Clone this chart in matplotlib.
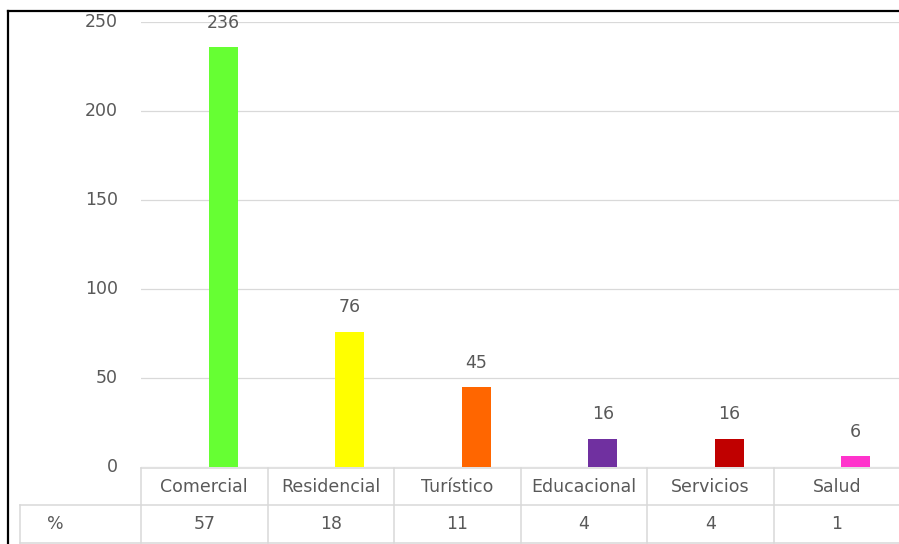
import matplotlib.pyplot as plt
from matplotlib.lines import Line2D
from matplotlib.transforms import blended_transform_factory

categorias = ["Comercial", "Residencial", "Turístico", "Educacional", "Servicios", "Salud"]
cantidad = [236, 76, 45, 16, 16, 6]
porcentaje = [57, 18, 11, 4, 4, 1]
colores = ["#66FF33", "#FFFF00", "#FF6600", "#7030A0", "#C00000", "#FF33CC"]
yticks = [0, 50, 100, 150, 200, 250]

W, H = 899, 544
plt.rcParams['font.family'] = ['DejaVu Sans']
gris = "#595959"
linea = "#D9D9D9"
fs = 12.5

fig = plt.figure(figsize=(W / 100, H / 100), dpi=100)

def fx(px):
    return px / W

def fy(py):
    return 1 - py / H

# plot area in pixel terms
x0, x1 = 141, 900
y_top, y_bot = 22, 467
ax = fig.add_axes([fx(x0), fy(y_bot), fx(x1) - fx(x0), (y_bot - y_top) / H])

pos = [i + 0.15 for i in range(len(categorias))]
ax.bar(pos, cantidad, width=0.23, color=colores, zorder=3)
for p, v in zip(pos, cantidad):
    ax.annotate(str(v), (p, v), xytext=(0, 17.5), textcoords="offset points",
                ha="center", va="center", fontsize=fs, color=gris)

ax.set_xlim(-0.5, len(categorias) - 0.5)
ax.set_ylim(0, 250)
ax.set_yticks(yticks)
ax.grid(axis="y", color=linea, linewidth=0.9, zorder=0)
ax.set_xticks([])
for s in ax.spines.values():
    s.set_visible(False)
ax.tick_params(axis="y", length=0, pad=16.5, labelsize=fs, labelcolor=gris)
for lbl in ax.get_yticklabels():
    lbl.set_verticalalignment("center")

# data table under the bars
tr = blended_transform_factory(ax.transData, fig.transFigure)
r0, r1, r2 = fy(468), fy(505), fy(543)
n = len(categorias)
for k in range(n + 1):
    fig.add_artist(Line2D([k - 0.5, k - 0.5], [r0, r2], transform=tr, color=linea, lw=1.1))
fig.add_artist(Line2D([-0.5, n - 0.5], [r0, r0], transform=tr, color=linea, lw=1.1))
for r in (r1, r2):
    fig.add_artist(Line2D([fx(20), fx(x1)], [r, r], transform=fig.transFigure, color=linea, lw=1.1))
fig.add_artist(Line2D([fx(20), fx(20)], [r1, r2], transform=fig.transFigure, color=linea, lw=1.1))

for i, (c, p) in enumerate(zip(categorias, porcentaje)):
    fig.text(i, (r0 + r1) / 2, c, transform=tr, ha="center", va="center", fontsize=fs, color=gris)
    fig.text(i, (r1 + r2) / 2, str(p), transform=tr, ha="center", va="center", fontsize=fs, color=gris)
fig.text(fx(55), (r1 + r2) / 2, "%", ha="center", va="center", fontsize=fs, color=gris)

# outer frame
fig.add_artist(Line2D([fx(8), 1], [fy(11), fy(11)], color="black", lw=1.6))
fig.add_artist(Line2D([fx(8), fx(8)], [fy(11), 0], color="black", lw=1.6))

fig.savefig("out.png", dpi=100)
